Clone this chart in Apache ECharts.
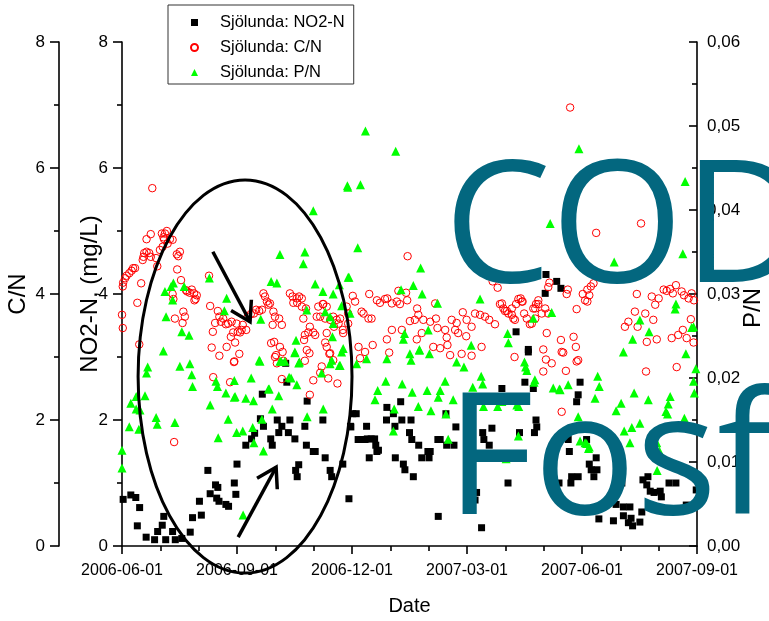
<!DOCTYPE html>
<html>
<head>
<meta charset="utf-8">
<script src="https://cdn.jsdelivr.net/npm/echarts@6/dist/echarts.min.js"></script>
<style>
    html, body {margin: 0; padding: 0; background: #fff;}
    #chart {width: 769px; height: 621px;}
</style>
</head>
<body>
<div id="chart"></div>
<script>
// x = months since 2006-06-01
var dateTicks = ['2006-06-01', '2006-09-01', '2006-12-01', '2007-03-01', '2007-06-01', '2007-09-01'];

// Sjölunda: NO2-N (mg/L) [month, value]
var no2Points = [
    [0.03,0.74],[0.23,0.81],[0.36,0.77],[0.46,0.61],[0.40,0.32],[0.63,0.14],[0.85,0.10],[0.93,0.23],[1.05,0.33],[1.09,0.47],
    [1.14,0.10],[1.32,0.23],[1.39,0.10],[1.56,0.12],[1.78,0.22],[1.84,0.45],[2.02,0.71],[2.07,0.49],[2.24,1.20],[2.30,0.83],
    [2.44,0.97],[2.50,0.93],[2.47,0.76],[2.53,0.71],[2.71,0.66],[2.78,0.63],[2.93,1.00],[2.97,0.82],[3.00,1.30],[3.23,1.60],
    [3.38,1.70],[3.46,1.79],[3.61,2.02],[3.69,1.90],[3.88,1.70],[3.92,1.60],[4.05,2.00],[4.09,1.80],[4.17,1.90],[4.38,2.00],
    [4.34,1.80],[4.51,1.70],[4.53,1.20],[4.61,1.29],[4.57,1.10],[4.77,1.90],[4.81,1.60],[4.83,2.30],[4.99,1.50],[5.04,1.50],
    [5.24,2.00],[5.30,1.40],[5.43,1.20],[5.47,1.10],[5.76,1.30],[5.92,0.75],[5.96,1.90],[6.02,2.10],[6.11,2.10],[6.38,1.90],
    [6.40,1.70],[6.50,1.70],[6.45,1.40],[6.59,1.70],[6.62,1.60],[6.65,1.50],[6.90,2.00],[6.91,2.20],[7.08,2.10],[7.13,1.40],
    [7.12,1.90],[3.66,2.41],[4.30,2.60],[4.27,2.90],[5.97,1.89],[6.16,1.69],[6.26,1.69],[6.34,1.69],[6.69,1.52],[7.27,2.29],
    [7.30,2.00],[7.54,2.00],[7.50,1.80],[7.56,1.69],[7.74,1.60],[7.34,1.30],[7.38,1.21],[7.60,1.10],[7.82,1.40],[8.01,1.40],
    [7.98,1.50],[8.04,1.50],[8.24,1.69],[8.30,1.69],[8.45,2.10],[8.47,1.60],[8.66,1.60],[8.25,0.47],[8.71,1.89],[9.25,0.85],
    [9.21,0.73],[9.38,0.29],[9.41,1.80],[9.44,1.69],[9.65,1.87],[9.58,1.60],[9.91,2.50],[10.07,1.00],[10.37,1.80],[10.51,2.60],
    [10.73,2.50],[10.80,2.00],[10.82,1.89],[10.76,1.80],[10.60,3.08],[11.86,2.29],[11.64,1.69],[11.67,1.50],[11.73,1.10],[11.90,1.10],
    [11.40,1.00],[11.71,1.00],[11.90,2.40],[11.95,2.60],[12.19,1.30],[12.24,1.21],[12.39,1.21],[12.37,1.40],[12.31,1.10],[12.12,1.69],
    [12.44,0.43],[12.82,0.40],[12.89,0.66],[13.08,0.62],[13.25,0.62],[13.08,0.48],[13.28,0.44],[13.32,0.32],[13.21,0.37],[13.51,0.38],
    [13.56,0.54],[13.04,1.00],[13.59,1.05],[13.72,1.10],[13.69,0.97],[13.78,0.87],[13.88,0.85],[14.04,0.87],[14.07,0.78],[14.27,1.00],
    [14.45,1.00],[14.72,0.65],[14.98,0.89],[11.06,4.31],[11.45,4.09],[11.04,4.01],[11.34,4.20],[10.28,3.40],[10.60,3.12]
];

// Sjölunda: C/N [month, value]
var cnPoints = [
    [0.79,5.68],[0.02,4.12],[0.03,4.18],[0.08,4.25],[0.12,4.29],[0.19,4.33],[0.25,4.37],[0.29,4.41],[0.34,4.41],[0.00,3.67],
    [0.02,3.46],[0.40,3.86],[0.50,4.17],[0.45,3.20],[0.54,4.54],[0.58,4.65],[0.64,4.67],[0.71,4.65],[0.75,4.59],[0.56,4.59],
    [0.64,4.87],[0.75,4.95],[1.04,4.96],[1.08,4.90],[1.12,4.96],[1.17,5.00],[1.25,4.87],[1.32,4.86],[1.10,4.87],[1.06,4.75],
    [0.99,4.70],[0.89,4.57],[0.92,4.44],[1.19,4.80],[1.47,4.60],[1.51,4.67],[1.43,4.63],[1.44,4.39],[1.54,4.22],[1.32,4.00],
    [1.34,3.92],[1.67,4.06],[1.70,4.04],[1.77,4.02],[1.82,4.07],[1.88,4.01],[1.92,3.92],[1.95,3.98],[1.89,3.90],[1.60,3.72],
    [1.64,3.64],[1.58,3.54],[1.38,3.61],[2.27,4.29],[2.30,3.81],[1.36,1.65],
    [2.50,3.73],[2.54,3.64],[2.43,3.54],[2.37,3.40],[2.58,3.56],[2.64,3.61],[2.71,3.52],[2.77,3.53],[2.86,3.56],[2.99,3.53],
    [3.02,3.40],[3.08,3.39],[3.12,3.43],[3.24,3.43],[3.15,3.51],[2.90,3.39],[2.84,3.32],[2.95,3.23],[2.73,3.16],[2.54,3.02],
    [2.34,3.15],[3.06,3.05],[2.93,2.93],[2.38,2.68],[2.82,2.60],[2.92,2.92],
    [3.28,3.64],[3.36,3.68],[3.44,3.69],[3.50,3.75],[3.58,3.73],[3.65,3.75],[3.69,4.01],[3.73,3.96],[3.78,3.88],[3.82,3.83],
    [3.86,3.85],[3.95,3.72],[3.99,3.64],[4.10,3.61],[4.17,3.51],[3.93,3.51],[4.12,3.16],[3.97,3.24],[3.89,3.22],[4.02,3.03],
    [4.21,2.94],[4.17,2.65],[4.19,3.08],[3.99,3.00],[4.04,2.90],
    [4.38,4.01],[4.45,3.96],[4.47,3.86],[4.56,3.93],[4.62,3.96],[4.69,3.80],[4.57,3.86],
    [4.77,3.35],[4.86,3.39],[4.90,3.48],[4.99,3.39],[5.17,3.64],[5.12,3.80],[5.25,3.84],[5.34,3.80],[5.43,3.59],[5.51,3.64],
    [5.60,3.59],[5.65,3.53],[5.69,3.61],[5.86,3.80],[5.90,3.69],[5.90,3.53],[5.76,3.43],
    [4.75,3.27],[4.82,3.11],[4.89,3.06],[5.30,3.23],[5.34,3.16],[5.43,3.06],[5.51,2.95],[5.21,2.85],[5.17,2.75],[5.38,2.66],
    [5.62,2.58],[4.99,2.63],[4.90,2.40],[5.41,3.05],[4.77,2.94],
    [4.69,3.93],[4.80,3.77],[4.73,3.61],[5.08,3.64],[5.24,3.84],[5.30,3.61],[5.53,3.48],[5.34,3.38],[5.04,3.35],[5.77,3.38],
    [6.02,3.97],[6.08,3.88],[6.25,3.72],[6.30,3.69],[6.43,3.61],[6.51,3.61],[6.45,4.00],[6.65,3.90],[6.73,3.86],[6.86,3.92],
    [6.92,3.93],[7.04,3.85],[7.17,3.88],[7.25,3.84],[7.21,4.05],[7.41,4.02],[7.44,3.90],[7.51,3.57],[7.64,3.59],[7.70,3.77],
    [7.73,3.67],[7.82,3.38],[7.86,3.59],[8.04,3.56],[8.17,3.85],[8.19,3.61],[8.23,3.46],[8.43,3.43],[8.47,3.31],[8.60,3.59],
    [8.69,3.43],[8.73,3.54],[8.89,3.71],[8.99,3.59],[9.12,3.48],[9.21,3.69],[9.34,3.67],[9.47,3.64],[9.58,3.59],[9.73,3.52],
    [9.86,3.84],[9.95,3.77],[10.04,3.73],[10.17,3.67],[10.25,3.59],[10.34,3.92],[10.43,3.88],[10.56,3.61],[10.64,3.52],[10.78,3.77],
    [10.86,3.84],[11.04,3.77],[11.12,3.69],[6.17,3.16],[6.54,3.19],[6.91,3.28],[7.04,3.43],[7.30,3.43],[7.69,3.28],[8.12,3.16],
    [8.30,3.14],[8.49,3.19],[8.77,3.38],[8.98,3.33],[9.38,3.16],[7.45,4.60],[9.67,4.20],[9.80,4.10],[11.69,6.96],[12.37,4.97],
    [13.54,5.12],
    [11.15,4.18],[11.12,4.11],[11.63,4.07],[11.60,4.00],[12.02,4.00],[12.14,4.07],[12.19,3.98],[12.23,4.12],[12.30,4.17],[12.08,3.90],
    [12.14,3.88],[11.86,3.76],[10.40,3.93],[10.45,3.88],[10.28,3.84],[10.17,3.77],[10.08,3.69],[9.99,3.73],[9.91,3.85],[10.21,3.61],
    [10.49,3.69],[10.73,3.77],[10.80,3.84],[10.86,3.90],[10.95,3.69],[10.78,3.61],[10.69,3.53],[11.08,3.38],[10.99,3.12],[11.45,3.27],
    [11.78,3.32],[11.84,3.16],[13.43,4.00],[13.82,3.96],[13.91,3.83],[14.00,3.93],[14.13,4.07],[14.21,4.05],[14.30,4.08],[14.37,4.01],
    [14.45,4.14],[14.60,4.04],[14.66,3.98],[14.78,3.93],[14.86,4.01],[14.92,3.90],[13.65,3.69],[13.38,3.72],[13.21,3.56],[13.12,3.48],
    [13.86,3.59],[13.69,3.24],[13.95,3.28],[14.34,3.30],[14.51,3.35],[14.73,3.30],[14.84,3.60],[14.63,3.43],[14.91,3.23],[13.45,3.48],
    [11.47,3.08],[11.90,2.95],[11.58,2.78],[11.47,2.13],[13.67,2.77],[14.47,2.84],[6.21,2.98],[6.34,3.08],[6.97,3.07],[8.56,3.03],
    [8.86,3.05],[9.12,3.02],[10.24,3.00],[11.06,2.96],[11.21,2.90],[10.99,2.77],[11.51,3.07],[11.86,2.93]
];

// Sjölunda: P/N [month, value]
var pnPoints = [
    [5.88,0.0429],[4.99,0.0399],[4.12,0.0347],[4.77,0.0350],[4.73,0.0336],[2.28,0.0319],[3.89,0.0315],[4.04,0.0313],[5.04,0.0312],[5.24,0.0303],
    [5.51,0.0300],[5.67,0.0311],[5.90,0.0320],[1.34,0.0313],[1.28,0.0309],[1.62,0.0309],[1.12,0.0303],[1.32,0.0293],[2.73,0.0295],[2.67,0.0280],
    [3.62,0.0270],[4.82,0.0281],[5.30,0.0279],[5.43,0.0273],[5.73,0.0286],[5.51,0.0265],[1.15,0.0273],[1.56,0.0255],[1.75,0.0251],[1.08,0.0232],
    [4.54,0.0245],[4.51,0.0231],[4.63,0.0219],[4.25,0.0220],[3.60,0.0220],[4.12,0.0220],[5.73,0.0231],[5.77,0.0235],[5.21,0.0206],[5.43,0.0217],
    [5.67,0.0215],[4.36,0.0201],[4.56,0.0192],[3.84,0.0187],[3.37,0.0200],[2.93,0.0197],[2.45,0.0196],[2.49,0.0190],[2.71,0.0182],[2.93,0.0177],
    [3.23,0.0176],[1.51,0.0214],[1.77,0.0217],[1.82,0.0204],[1.84,0.0190],[0.67,0.0213],[0.64,0.0206],[0.60,0.0179],[0.37,0.0178],
    [0.23,0.0170],[0.37,0.0163],[0.47,0.0162],[0.19,0.0142],[0.44,0.0139],[0.89,0.0153],[0.92,0.0145],[1.38,0.0147],[0.00,0.0114],[0.00,0.0093],
    [2.30,0.0168],[2.51,0.0129],[2.77,0.0151],[2.95,0.0178],[2.99,0.0135],[3.15,0.0137],[3.43,0.0173],[3.41,0.0141],[3.44,0.0123],[3.58,0.0221],
    [3.65,0.0151],[3.69,0.0113],[3.82,0.0187],[3.92,0.0163],[4.09,0.0179],[4.15,0.0220],[4.41,0.0200],[4.51,0.0230],[4.61,0.0218],[4.83,0.0154],
    [5.25,0.0163],[5.47,0.0221],[3.16,0.0037],
    [6.35,0.0494],[7.14,0.0470],[5.89,0.0427],[6.22,0.0430],[6.15,0.0355],[5.92,0.0320],[5.49,0.0249],[5.95,0.0277],[7.79,0.0331],[7.60,0.0310],
    [7.83,0.0300],[7.28,0.0305],[8.23,0.0289],[7.37,0.0253],[7.34,0.0246],[7.99,0.0257],[7.76,0.0234],[9.34,0.0294],[9.11,0.0239],[10.08,0.0242],
    [10.73,0.0271],[11.92,0.0473],[14.69,0.0434],[11.17,0.0384],[14.63,0.0348],[12.84,0.0338],[11.21,0.0278],[10.06,0.0253],[13.32,0.0246],[13.51,0.0269],
    [13.75,0.0255],[14.45,0.0288],[14.43,0.0282],[14.86,0.0260],[14.91,0.0261],
    [5.69,0.0215],[6.12,0.0217],[6.38,0.0223],[6.91,0.0223],[7.51,0.0229],[7.54,0.0221],[7.76,0.0233],[8.02,0.0229],[8.73,0.0219],[8.92,0.0213],
    [9.37,0.0202],[9.41,0.0193],[9.15,0.0189],[8.43,0.0196],[8.30,0.0185],[8.25,0.0177],[7.96,0.0185],[7.57,0.0183],[7.31,0.0193],[6.88,0.0196],
    [6.67,0.0185],[6.60,0.0174],[7.10,0.0163],[7.08,0.0137],[7.73,0.0166],[8.06,0.0161],[8.45,0.0157],[8.51,0.0127],[8.64,0.0174],[9.43,0.0166],
    [9.80,0.0166],[9.91,0.0172],[10.30,0.0168],[10.35,0.0166],[10.34,0.0131],[10.02,0.0104],[10.56,0.0209],[10.53,0.0213],[10.50,0.0219],[10.77,0.0198],
    [10.75,0.0195],[11.25,0.0188],[11.41,0.0187],[11.64,0.0192],[11.90,0.0154],[11.95,0.0125],
    [13.08,0.0231],[14.71,0.0229],[14.97,0.0211],[14.91,0.0196],[14.93,0.0182],[12.41,0.0202],[12.45,0.0190],[12.34,0.0176],[11.43,0.0186],[13.36,0.0182],
    [13.73,0.0174],[13.02,0.0170],[12.89,0.0161],[13.30,0.0141],[13.10,0.0137],[13.51,0.0146],[13.25,0.0123],[14.30,0.0178],[14.25,0.0169],[14.19,0.0160],
    [14.23,0.0157],[14.67,0.0152],[13.95,0.0123],[14.02,0.0113],[12.55,0.0138],[12.08,0.0123],[12.17,0.0116],[12.19,0.0118],[13.96,0.0090],[12.12,0.0122]
];

// annotations on the slide, in data units (month, NO2-N axis)
var ellipseNote = {month: 3.21, value: 2.69, rxMonths: 2.79, ryValue: 3.12};
var arrowNotes = [
    {from: [2.37, 4.67], to: [3.34, 3.56]},
    {from: [3.03, 0.14], to: [4.02, 1.25]}
];

var FONT = 'Liberation Sans, Arial, sans-serif';
var myChart = echarts.init(document.getElementById('chart'));

function yAxisBase() {
    return {
        type: 'value',
        min: 0,
        max: 8,
        interval: 2,
        splitLine: {show: false},
        axisLine: {show: true, onZero: false, lineStyle: {color: '#000', width: 1.6}},
        axisTick: {show: true, length: 9, lineStyle: {color: '#000', width: 1.6}},
        minorTick: {show: true, splitNumber: 2, length: 5, lineStyle: {color: '#000', width: 1.6}},
        axisLabel: {color: '#000', fontSize: 17, fontFamily: FONT, margin: 14},
        nameLocation: 'middle',
        nameMoveOverlap: false,
        nameTextStyle: {color: '#000', fontSize: 24, fontFamily: FONT}
    };
}

var yNo2 = yAxisBase();
yNo2.position = 'left';
yNo2.name = 'NO2-N, (mg/L)';
yNo2.nameGap = 20;

var yCn = yAxisBase();
yCn.position = 'left';
yCn.offset = 63;
yCn.name = 'C/N';
yCn.nameGap = 29;

var option = {
    backgroundColor: '#fff',
    animation: false,
    grid: {left: 122, right: 72, top: 42, bottom: 75, containLabel: false, outerBoundsMode: 'none'},
    legend: {
        orient: 'vertical',
        left: 168,
        top: 5,
        padding: [9, 9, 3, 22],
        itemWidth: 7,
        itemHeight: 7,
        itemGap: 8,
        borderColor: '#333',
        borderWidth: 1,
        textStyle: {color: '#000', fontSize: 16.5, fontFamily: FONT, padding: [0, 0, 0, 17]},
        data: ['Sjölunda: NO2-N', 'Sjölunda: C/N', 'Sjölunda: P/N']
    },
    xAxis: {
        type: 'value',
        min: 0,
        max: 15,
        interval: 3,
        splitLine: {show: false},
        axisLine: {onZero: false, lineStyle: {color: '#000', width: 1.6}},
        axisTick: {length: 8, lineStyle: {color: '#000', width: 1.6}},
        minorTick: {show: true, splitNumber: 3, length: 5, lineStyle: {color: '#000', width: 1.6}},
        axisLabel: {
            color: '#000', fontSize: 16, fontFamily: FONT, margin: 17,
            formatter: function (v) { return dateTicks[Math.round(v / 3)]; }
        },
        name: 'Date',
        nameLocation: 'middle',
        nameGap: 50,
        nameMoveOverlap: false,
        nameTextStyle: {color: '#000', fontSize: 20, fontFamily: FONT}
    },
    yAxis: [
        yNo2,
        yCn,
        {
            type: 'value',
            position: 'right',
            min: 0,
            max: 0.06,
            interval: 0.01,
            splitLine: {show: false},
            axisLine: {show: true, onZero: false, lineStyle: {color: '#000', width: 1.6}},
            axisTick: {show: true, inside: true, length: 8, lineStyle: {color: '#000', width: 1.6}},
            minorTick: {show: true, splitNumber: 2, length: 5, lineStyle: {color: '#000', width: 1.6}},
            axisLabel: {
                color: '#000', fontSize: 17, fontFamily: FONT, margin: 10,
                formatter: function (v) { return v.toFixed(2).replace('.', ','); }
            },
            name: 'P/N',
            nameLocation: 'middle',
            nameGap: 44,
            nameMoveOverlap: false,
            nameTextStyle: {color: '#000', fontSize: 24, fontFamily: FONT, padding: [0, 28, 0, 0]}
        }
    ],
    series: [
        {
            name: 'Sjölunda: NO2-N',
            type: 'scatter',
            yAxisIndex: 0,
            symbol: 'rect',
            symbolSize: 7,
            itemStyle: {color: '#000', opacity: 1},
            data: no2Points
        },
        {
            name: 'Sjölunda: C/N',
            type: 'scatter',
            yAxisIndex: 1,
            symbol: 'circle',
            symbolSize: 7.5,
            itemStyle: {color: 'rgba(0,0,0,0)', borderColor: '#ff0000', borderWidth: 1, opacity: 1},
            data: cnPoints
        },
        {
            name: 'Sjölunda: P/N',
            type: 'scatter',
            yAxisIndex: 2,
            symbol: 'triangle',
            symbolSize: 9,
            itemStyle: {color: '#00ff00', opacity: 1},
            data: pnPoints
        }
    ]
};

myChart.setOption(option);

// hand-drawn notes: ellipse and arrows, placed in data units
var c = myChart.convertToPixel({xAxisIndex: 0, yAxisIndex: 0}, [ellipseNote.month, ellipseNote.value]);
var e = myChart.convertToPixel({xAxisIndex: 0, yAxisIndex: 0}, [ellipseNote.month + ellipseNote.rxMonths, ellipseNote.value + ellipseNote.ryValue]);
var graphics = [{
    type: 'ellipse',
    z: 50,
    shape: {cx: c[0], cy: c[1], rx: Math.abs(e[0] - c[0]), ry: Math.abs(e[1] - c[1])},
    style: {fill: 'none', stroke: '#000', lineWidth: 3}
}];
arrowNotes.forEach(function (a) {
    var p0 = myChart.convertToPixel({xAxisIndex: 0, yAxisIndex: 0}, a.from);
    var p1 = myChart.convertToPixel({xAxisIndex: 0, yAxisIndex: 0}, a.to);
    var ang = Math.atan2(p0[1] - p1[1], p0[0] - p1[0]);
    var len = 22, spread = 0.55;
    graphics.push({
        type: 'polyline', z: 50,
        shape: {points: [p0, p1]},
        style: {stroke: '#000', lineWidth: 3.5, fill: 'none'}
    });
    graphics.push({
        type: 'polyline', z: 50,
        shape: {points: [
            [p1[0] + len * Math.cos(ang + spread), p1[1] + len * Math.sin(ang + spread)],
            p1,
            [p1[0] + len * Math.cos(ang - spread), p1[1] + len * Math.sin(ang - spread)]
        ]},
        style: {stroke: '#000', lineWidth: 3.5, fill: 'none'}
    });
});
// slide titles laid over the chart
graphics.push({
    type: 'text', z: 100, x: 444, y: 319,
    style: {text: 'COD', font: '170px "Open Sans"', fill: '#03677f', verticalAlign: 'bottom'}
});
graphics.push({
    type: 'text', z: 100, x: 446, y: 551,
    style: {text: 'Fosfor', font: '170px "Open Sans"', fill: '#03677f', verticalAlign: 'bottom'}
});
myChart.setOption({graphic: graphics});
</script>
</body>
</html>
